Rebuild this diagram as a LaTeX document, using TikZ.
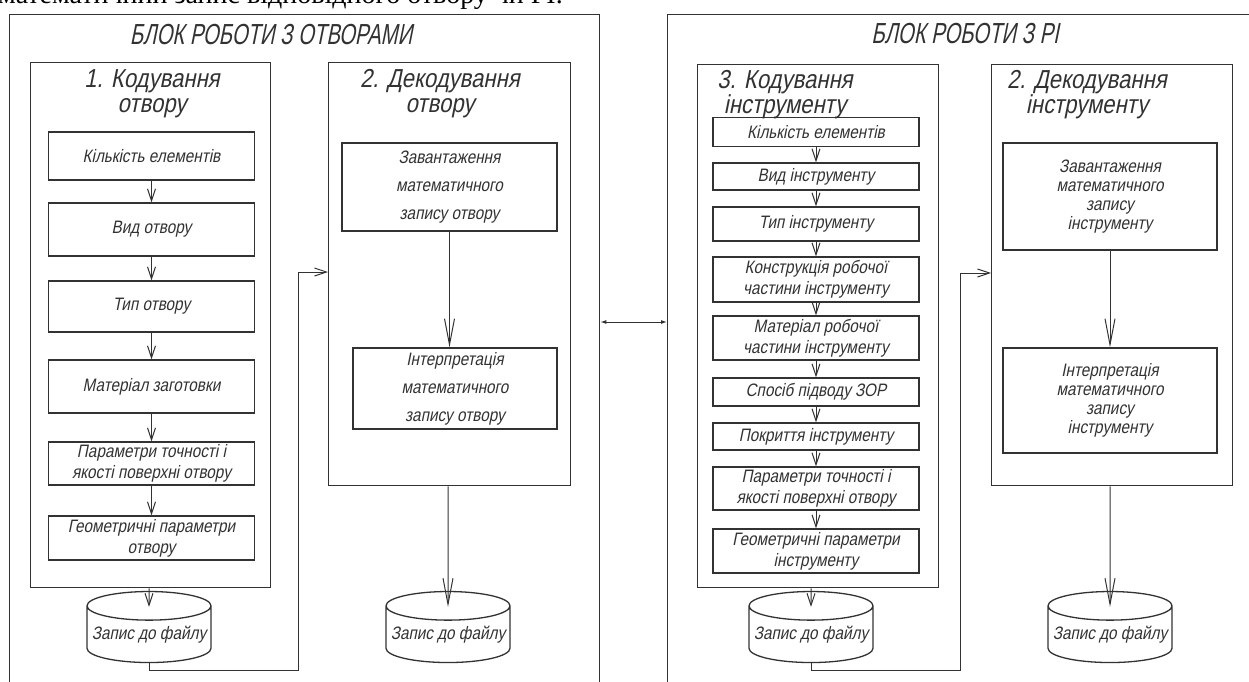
\documentclass[tikz,border=0pt]{standalone}
\usepackage{fontspec}
\setmainfont{Liberation Sans}[FakeStretch=0.85,FakeSlant=0.2]
\newfontfamily\titlefont{Liberation Sans}[FakeStretch=0.7,FakeSlant=0.2]
\newfontfamily\pagefont{Liberation Serif}
\usepackage{tikz}
\usetikzlibrary{shapes,shapes.geometric,arrows,arrows.meta,positioning,calc}
\definecolor{inkGray}{RGB}{50,50,50}

\begin{document}
\begin{tikzpicture}[
    x=1pt, y=-1pt,
    block/.style={rectangle, draw=inkGray, line width=1.3pt, anchor=north west},
    stage/.style={rectangle, draw=inkGray, line width=1.3pt, anchor=north west},
    item/.style={rectangle, draw=inkGray, line width=1.3pt, minimum width=206pt, inner sep=1pt,
        align=center, text=inkGray, font=\fontsize{18}{21}\selectfont},
    head/.style={align=center, text=inkGray, font=\fontsize{26}{25}\selectfont},
    title/.style={text=inkGray, font=\titlefont\fontsize{29}{30}\selectfont},
    store/.style={cylinder, shape border rotate=90, aspect=0.25, draw=inkGray, line width=1.3pt,
        minimum width=124pt, minimum height=71pt, inner sep=0pt, text=inkGray,
        font=\fontsize{18}{21}\selectfont},
    arrow/.style={-{Straight Barb[length=12pt,width=8pt]}, line width=1pt, draw=inkGray},
    longarrow/.style={-{Straight Barb[length=26pt,width=10pt]}, line width=1pt, draw=inkGray},
    duplex/.style={{Latex[length=6pt,width=4pt]}-{Latex[length=6pt,width=4pt]}, line width=1pt, draw=inkGray}
]
    \useasboundingbox (0,0) rectangle (1249,682);
    \clip (0,0) rectangle (1249,682);

    % Page line above
    \node[anchor=base west, inner sep=0pt, font=\pagefont\fontsize{28}{30}\selectfont] (capline) at (-2,3.5)
        {математичний запис відповідного отвору чи РІ.};

    % Holes block
    \node[block, minimum width=590pt, minimum height=720pt] (blockA) at (9,14) {};
    \node[title] (titleA) at (271,35) {БЛОК РОБОТИ З ОТВОРАМИ};

    \node[stage, minimum width=240pt, minimum height=525pt] (in1) at (30,62) {};
    \node[head] (head1) at (152,94) {1. Кодування\\отвору};
    \node[stage, minimum width=242pt, minimum height=423pt] (in2) at (328,62) {};
    \node[head] (head2) at (440,94) {2. Декодування\\отвору};

    % Hole coding
    \node[item, minimum height=48pt] (a1) at (151.5,156) {Кількість елементів};
    \node[item, minimum height=53pt] (a2) at (151.5,229.5) {Вид отвору};
    \node[item, minimum height=51pt] (a3) at (151.5,306.5) {Тип отвору};
    \node[item, minimum height=53pt] (a4) at (151.5,386.5) {Матеріал заготовки};
    \node[item, minimum height=43pt] (a5) at (151.5,463.5) {Параметри точності і\\якості поверхні отвору};
    \node[item, minimum height=44pt] (a6) at (151.5,538) {Геометричні параметри\\отвору};

    % Hole decoding
    \node[item, minimum width=215pt, minimum height=88pt, font=\fontsize{18}{28}\selectfont] (b1) at (449.5,187)
        {Завантаження\\математичного\\запису отвору};
    \node[item, minimum width=204pt, minimum height=81pt, font=\fontsize{18}{28}\selectfont] (b2) at (455,388.5)
        {Інтерпретація\\математичного\\запису отвору};

    \node[store] (c1) at (149,634.5) {Запис до файлу};
    \node[store] (c2) at (448,634.5) {Запис до файлу};

    % Tools block
    \node[block, minimum width=590pt, minimum height=720pt] (blockB) at (667,14) {};
    \node[title] (titleB) at (965,34) {БЛОК РОБОТИ З РІ};

    \node[stage, minimum width=241pt, minimum height=523pt] (in3) at (697,64) {};
    \node[head] (head3) at (785,95) {3. Кодування\\інструменту};
    \node[stage, minimum width=241pt, minimum height=421pt] (in4) at (991,64) {};
    \node[head] (head4) at (1087,95) {2. Декодування\\інструменту};

    % Tool coding
    \begin{scope}[every node/.append style={font=\fontsize{18}{19}\selectfont}]
    \node[item, minimum height=29pt] (r1) at (816,132) {Кількість елементів};
    \node[item, minimum height=27pt] (r2) at (816,176.5) {Вид інструменту};
    \node[item, minimum height=34pt] (r3) at (816,224) {Тип інструменту};
    \node[item, minimum height=45pt] (r4) at (816,279.5) {Конструкція робочої\\частини інструменту};
    \node[item, minimum height=44pt] (r5) at (816,338) {Матеріал робочої\\частини інструменту};
    \node[item, minimum height=28pt] (r6) at (816,392) {Спосіб підводу ЗОР};
    \node[item, minimum height=27pt] (r7) at (816,436.5) {Покриття інструменту};
    \node[item, minimum height=43pt] (r8) at (816,488.5) {Параметри точності і\\якості поверхні отвору};
    \node[item, minimum height=44pt] (r9) at (816,551) {Геометричні параметри\\інструменту};
    \end{scope}

    % Tool decoding
    \node[item, minimum width=214pt, minimum height=107pt, font=\fontsize{18}{19}\selectfont] (d1) at (1110,196.5)
        {Завантаження\\математичного\\запису\\інструменту};
    \node[item, minimum width=214pt, minimum height=105pt, font=\fontsize{18}{19}\selectfont] (d2) at (1110,400.5)
        {Інтерпретація\\математичного\\запису\\інструменту};

    \node[store] (c3) at (811,634.5) {Запис до файлу};
    \node[store] (c4) at (1110,634.5) {Запис до файлу};

    % Arrows
    \foreach \u/\v in {a1/a2, a2/a3, a3/a4, a4/a5, a5/a6}
        \draw[arrow] (\u.south) -- (\u.south |- \v.north);
    \foreach \u/\v in {r1/r2, r2/r3, r3/r4, r4/r5, r5/r6, r6/r7, r7/r8, r8/r9}
        \draw[arrow] (\u.south) -- (\u.south |- \v.north);
    \draw[longarrow] (b1.south) -- (b1.south |- b2.north);
    \draw[longarrow] (d1.south) -- (d1.south |- d2.north);

    \draw[arrow] (c1 |- in1.south) -- ([yshift=-16pt]c1.north);
    \draw[longarrow] (c2 |- in2.south) -- ([yshift=-16pt]c2.north);
    \draw[arrow] (c3 |- in3.south) -- ([yshift=-16pt]c3.north);
    \draw[longarrow] (c4 |- in4.south) -- ([yshift=-16pt]c4.north);

    % Loops to decoding
    \coordinate (loopA) at (298,272);
    \coordinate (loopB) at (960,273);
    \draw[arrow] (c1.south) -- ++(0,7) -| (loopA) -- (in2.west |- loopA);
    \draw[arrow] (c3.south) -- ++(0,7) -| (loopB) -- (in4.west |- loopB);

    % Link between blocks
    \coordinate (mid) at (633,322);
    \draw[duplex] (blockA.east |- mid) -- (blockB.west |- mid);
\end{tikzpicture}
\end{document}
